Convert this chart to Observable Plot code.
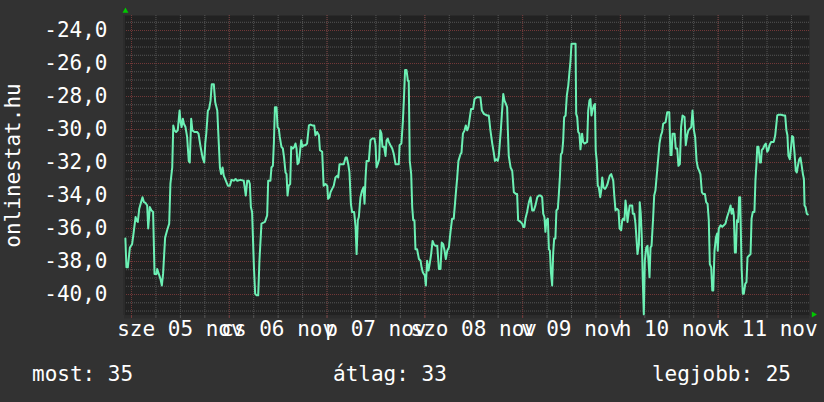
<!DOCTYPE html>
<html><head><meta charset="utf-8">
<script src="https://cdn.jsdelivr.net/npm/d3@7"></script>
<script src="https://cdn.jsdelivr.net/npm/@observablehq/plot@0.6"></script>
<style>
html,body{margin:0;padding:0;background:#323232;}
#wrap{width:824px;height:402px;position:relative;overflow:hidden;font-family:"DejaVu Sans Mono",monospace;}
#chart svg{display:block;}
#legend{position:relative;height:50px;color:#fff;font-size:21px;}
#legend span{position:absolute;top:10px;line-height:24px;white-space:pre;}
</style></head><body>
<div id="wrap"><div id="chart"></div><div id="legend"></div></div>
<script>
// hours since 2008-11-05 00:00
const hours = [
-1.5,-1.25,-0.9,-0.65,-0.4,0.15,0.55,1.0,1.25,1.55,1.9,2.35,2.7,3.05,3.45,3.85,4.1,4.5,4.9,5.3,5.5,5.65,6.15,6.3,6.7,7.1,7.45,7.75,8.25,8.75,9.25,9.55,10.0,10.25,10.55,10.95,11.35,11.8,12.05,12.3,12.6,12.85,13.25,13.65,14.05,14.3,14.65,14.95,15.45,16.1,16.45,16.95,17.45,17.85,18.1,18.35,18.75,19.05,19.4,19.7,20.2,20.55,21.05,21.35,21.7,22.0,22.35,22.65,23.15,23.65,24.15,24.55,25.1,25.55,25.95,26.75,27.55,28.05,28.4,28.8,29.05,29.3,29.6,30.05,30.35,30.7,31.1,
31.4,31.9,32.75,33.3,33.55,34.1,34.35,34.7,34.95,35.2,35.6,35.85,36.15,36.4,36.8,37.15,37.45,37.8,38.05,38.3,38.6,38.95,39.2,39.6,39.95,40.25,40.5,40.75,41.05,41.3,41.65,41.95,42.3,42.7,43.1,43.55,43.95,44.35,44.85,45.15,45.55,46.0,46.25,46.8,47.15,47.6,48.05,48.25,48.6,48.85,49.25,49.65,50.05,50.5,50.75,51.05,51.55,52.1,52.55,52.85,53.2,53.5,53.85,54.15,54.65,55.0,55.25,55.55,55.8,56.2,56.6,56.95,57.2,57.45,57.7,58.25,58.65,59.05,59.65,59.9,60.15,60.45,60.8,61.05,61.35,61.6,62.0,62.35,62.6,62.9,63.15,63.55,64.0,64.4,64.8,
65.2,65.6,65.8,66.25,66.6,66.85,67.15,67.5,67.85,68.05,68.3,68.65,68.9,69.15,69.45,69.7,70.1,70.55,70.95,71.2,71.5,71.75,72.0,72.25,72.55,72.9,73.25,73.55,73.9,74.2,74.6,75.05,75.45,75.85,76.15,76.5,76.85,77.15,77.5,77.9,78.3,78.7,79.1,79.6,79.95,80.25,80.75,81.0,81.35,81.75,82.05,82.4,82.7,83.05,83.35,83.85,84.2,84.7,85.15,85.65,86.0,86.5,87.3,87.7,88.1,88.55,88.95,89.2,89.5,89.9,90.15,90.4,90.65,91.0,91.25,91.55,91.9,92.2,92.35,92.6,93.05,93.45,93.85,94.35,94.65,94.9,95.5,95.9,96.15,96.45,96.7,97.1,97.55,97.95,
98.35,98.75,99.15,99.6,100.0,100.4,100.8,101.05,101.35,101.6,101.85,102.2,102.45,102.7,102.95,103.25,103.5,103.75,104.05,104.3,104.65,104.9,105.15,105.4,105.7,105.95,106.2,106.55,106.85,107.2,107.45,107.75,108.0,108.6,109.0,109.15,109.4,109.65,109.95,110.2,110.6,110.85,111.2,111.85,112.1,112.4,112.65,112.9,113.25,113.5,113.75,113.95,114.2,114.45,114.7,115.05,115.3,115.55,115.85,116.2,116.5,116.85,117.15,117.4,117.75,118.0,118.25,118.5,118.8,119.15,119.55,119.8,120.2,120.45,120.7,121.0,121.25,121.5,121.75,122.05,122.3,122.55,122.9,123.05,123.4,123.7,123.95,124.2,124.55,124.75,125.0,125.25,125.5,125.75,126.0,126.35,126.65,126.9,127.15,127.4,127.65,128.05,128.3,128.6,128.95,129.3,129.6,129.95,130.25,
130.5,131.1,131.5,132.0,132.3,132.55,132.8,133.3,133.6,133.95,134.25,134.6,134.9,135.25,135.75,136.05,136.4,136.7,137.05,137.4,137.7,138.05,138.35,138.7,139.0,139.35,139.65,140.0,140.3,140.75,141.05,141.4,141.7,141.95,142.3,142.55,142.8,143.1,143.45,143.75,143.9,144.15,144.6,145.0,145.4,145.8,146.2,146.6,147.05,147.3,147.6,147.85,148.1,148.35,148.6,148.9,149.15,149.4,149.75,150.05,150.3,150.65,150.95,151.2,151.55,151.95,152.2,152.5,152.9,153.15,153.4,153.6,153.9,154.25,154.5,154.7,155.05,155.4,155.7,156.05,156.3,156.6,157.0,157.35,157.65,158.0,158.3,158.5,158.9,159.45,160.1,160.45,160.75,161.0,161.25,161.6,161.9,162.15,162.4,162.75,163.05,163.3,163.65,163.9,164.2,164.45,164.8,165.05,165.2,165.45,165.75,166.0
];
const values = [
-36.6,-38.35,-38.35,-37.75,-37.15,-36.95,-36.2,-35.3,-35.5,-35.6,-34.8,-34.4,-34.1,-34.4,-34.45,-34.6,-36.0,-34.7,-34.9,-35.0,-37.1,-38.75,-38.75,-38.45,-38.75,-39.05,-39.45,-38.75,-36.55,-36.1,-35.7,-33.3,-32.3,-29.75,-30.05,-30.15,-30.05,-28.85,-29.55,-29.85,-29.35,-29.65,-29.85,-30.45,-31.9,-32.0,-29.35,-30.05,-30.15,-30.15,-30.25,-31.05,-31.7,-32.0,-30.85,-30.25,-28.85,-28.75,-28.25,-27.25,-27.25,-28.35,-28.85,-30.45,-32.3,-32.7,-32.3,-32.8,-33.1,-33.4,-33.4,-33.05,-33.1,-33.0,-33.1,-33.05,-33.1,-34.0,-33.1,-33.1,-33.3,-34.7,-35.0,-38.35,-39.95,-40.05,-40.05,
-37.95,-35.7,-35.6,-35.2,-33.1,-33.1,-32.3,-32.2,-30.8,-28.65,-28.65,-29.85,-29.95,-30.45,-31.05,-31.15,-31.7,-32.6,-32.7,-34.0,-33.4,-33.3,-31.05,-31.15,-31.05,-30.85,-31.15,-32.1,-32.0,-31.5,-30.65,-31.05,-30.95,-30.95,-30.85,-29.75,-29.7,-29.75,-29.75,-30.35,-30.15,-30.35,-31.25,-31.35,-33.4,-33.3,-33.4,-34.2,-34.1,-33.8,-33.6,-33.4,-32.9,-32.8,-32.9,-32.1,-32.1,-32.1,-31.7,-31.7,-32.1,-32.6,-34.5,-35.0,-35.0,-35.9,-37.55,-35.5,-35.3,-34.1,-33.7,-33.5,-34.5,-32.9,-31.9,-31.9,-30.65,-30.55,-30.55,-30.95,-32.3,-32.1,-31.8,-30.05,-30.25,-31.05,-31.05,-31.6,-30.65,-30.55,-30.75,-30.95,-31.15,-31.5,-32.1,
-32.1,-32.1,-30.95,-30.85,-29.55,-28.25,-26.4,-26.4,-27.05,-27.05,-31.9,-32.7,-34.7,-35.5,-35.5,-37.25,-37.25,-37.85,-37.95,-38.35,-38.65,-38.75,-38.85,-39.45,-37.95,-38.55,-38.05,-37.55,-36.75,-36.95,-37.05,-37.05,-38.45,-38.45,-36.85,-36.95,-37.35,-37.85,-37.35,-37.15,-36.2,-35.4,-35.4,-33.9,-32.9,-31.9,-31.5,-31.4,-30.25,-30.05,-29.75,-30.05,-29.85,-29.25,-28.75,-28.75,-28.15,-28.05,-28.05,-28.05,-28.85,-29.05,-29.15,-29.15,-30.05,-30.85,-31.45,-31.9,-31.8,-31.9,-31.6,-30.85,-30.05,-28.75,-27.85,-28.25,-28.45,-28.65,-29.85,-31.6,-32.3,-32.5,-33.8,-33.9,-33.9,-35.5,-35.6,-35.7,-35.9,-35.9,-35.4,-35.0,-34.4,-34.1,
-34.9,-34.9,-34.6,-34.1,-34.0,-34.0,-34.1,-35.1,-35.3,-36.2,-35.5,-35.4,-37.25,-37.35,-38.65,-39.45,-37.5,-36.6,-36.6,-34.9,-34.8,-33.9,-32.9,-31.5,-31.4,-30.7,-29.25,-29.15,-27.95,-27.35,-26.65,-25.85,-24.8,-24.8,-24.8,-29.05,-29.25,-30.15,-30.25,-31.2,-30.25,-30.75,-30.85,-30.75,-28.85,-28.25,-28.15,-29.15,-28.75,-28.55,-28.45,-31.3,-31.9,-33.4,-33.5,-34.1,-33.7,-32.9,-33.5,-33.6,-33.5,-33.3,-33.0,-32.8,-32.7,-32.9,-33.1,-34.0,-34.9,-34.8,-34.9,-36.0,-36.1,-35.5,-35.4,-35.5,-34.3,-34.8,-35.6,-35.0,-34.6,-34.6,-34.6,-35.1,-35.1,-35.7,-36.6,-37.55,-36.95,-34.4,-35.1,-36.5,-39.15,-41.2,-37.95,-37.15,-37.05,-37.95,-38.95,-37.15,-37.05,-35.3,-34.0,-33.7,-32.7,-31.7,-30.85,-30.35,-30.15,
-29.65,-29.55,-28.95,-28.95,-31.55,-31.55,-30.25,-30.25,-31.15,-31.15,-32.2,-32.1,-29.85,-29.15,-29.25,-30.95,-30.35,-30.05,-29.95,-29.85,-28.85,-30.05,-30.45,-31.9,-32.3,-32.5,-32.7,-33.8,-33.9,-33.9,-34.4,-34.5,-35.5,-38.15,-38.35,-39.75,-39.75,-37.35,-36.55,-36.3,-37.35,-36.0,-35.8,-35.9,-35.8,-35.7,-35.3,-35.0,-34.6,-35.1,-34.8,-35.2,-37.45,-37.45,-35.5,-35.6,-34.1,-34.1,-38.35,-39.95,-39.95,-39.35,-39.25,-37.75,-37.65,-37.55,-35.4,-35.0,-35.0,-33.1,-32.1,-31.05,-31.05,-32.0,-32.0,-31.25,-31.15,-30.95,-30.85,-31.35,-31.25,-30.95,-30.75,-30.75,-30.75,-30.35,-29.65,-29.15,-29.1,-29.1,-29.15,-29.15,-30.05,-30.35,-31.6,-31.8,-31.05,-30.4,-30.45,-31.45,-32.5,-32.6,-32.1,-31.8,-31.7,-32.1,-32.7,-33.0,-34.6,-34.7,-35.1,-35.15
];
const dayLabels = ["sze 05 nov","cs 06 nov","p 07 nov","szo 08 nov","v 09 nov","h 10 nov","k 11 nov"];
const yTicks = [-40,-38,-36,-34,-32,-30,-28,-26,-24];
const yTitle = "onlinestat.hu";
const legendItems = ["most: 35","átlag: 33","legjobb: 25"];
const windowHours = [-1.72, 166.42];
const yRange = [-41.27, -23.09];

const start = Date.UTC(2008,10,5);
const HOUR = 3600e3;
const data = hours.map((h,i)=>({t:new Date(start + h*HOUR), v:values[i]}));
const xDomain = windowHours.map(h=>new Date(start + h*HOUR));
const minorX = d3.utcHour.every(6).range(xDomain[0], xDomain[1]);
const majorX = d3.utcDay.range(xDomain[0], xDomain[1]);
const noonX = majorX.map(d=>d3.utcHour.offset(d,12));
const minorY = d3.range(-41, -23.1, 0.5);
const majorY = yTicks;

const chart = Plot.plot({
  width:824, height:352,
  marginLeft:124, marginRight:15, marginTop:15, marginBottom:37,
  style:{background:"transparent", color:"#fff", fontFamily:"'DejaVu Sans Mono', monospace", fontSize:"21px", overflow:"visible"},
  x:{type:"utc", domain:xDomain},
  y:{domain:yRange},
  marks:[
    Plot.frame({fill:"#222222", stroke:null}),
    Plot.ruleY(minorY, {stroke:"#555555", strokeDasharray:"1,1"}),
    Plot.ruleX(minorX, {stroke:"#555555", strokeDasharray:"1,1"}),
    Plot.ruleY(majorY, {stroke:"#723838", strokeDasharray:"1,1"}),
    Plot.ruleX(majorX, {stroke:"#723838", strokeDasharray:"1,1"}),
    Plot.ruleX([xDomain[0]], {stroke:"#2c2c2c", strokeWidth:2, dx:-0.5}),
    Plot.ruleY([yRange[0]], {stroke:"#2c2c2c", strokeWidth:3, dy:1.5}),
    Plot.ruleX(minorX, {stroke:"#555555", insetTop:300, insetBottom:-3}),
    Plot.ruleX(majorX, {stroke:"#723838", insetTop:300, insetBottom:-3}),
    Plot.line(data, {x:"t", y:"v", stroke:"#6cf0b4", strokeWidth:2}),
    Plot.axisY({ticks:yTicks, tickFormat:d=>d.toFixed(1).replace(".", ","), tickSize:0, tickPadding:17, fontSize:21, label:null}),
    Plot.axisX({ticks:noonX, tickFormat:d=>dayLabels[Math.floor((d - start)/86400e3)], tickSize:0, tickPadding:6, fontSize:21, label:null}),
    Plot.text([yTitle], {frameAnchor:"left", textAnchor:"middle", rotate:-90, dx:-111, fontSize:21, fill:"#fff"}),
    Plot.dot([0], {frameAnchor:"top-left", symbol:"triangle", r:2.2, fill:"#00c800", stroke:null, dx:1, dy:-4.5}),
    Plot.dot([0], {frameAnchor:"bottom-right", symbol:"triangle", rotate:90, r:2.2, fill:"#00c800", stroke:null, dx:4, dy:-1})
  ]
});
document.getElementById("chart").appendChild(chart);

const legend = document.getElementById("legend");
const pos = [{left:"32px"},{left:"333px"},{right:"33px"}];
legendItems.forEach((txt,i)=>{
  const s = document.createElement("span");
  s.textContent = txt;
  Object.assign(s.style, pos[i]);
  legend.appendChild(s);
});
</script>
</body></html>
